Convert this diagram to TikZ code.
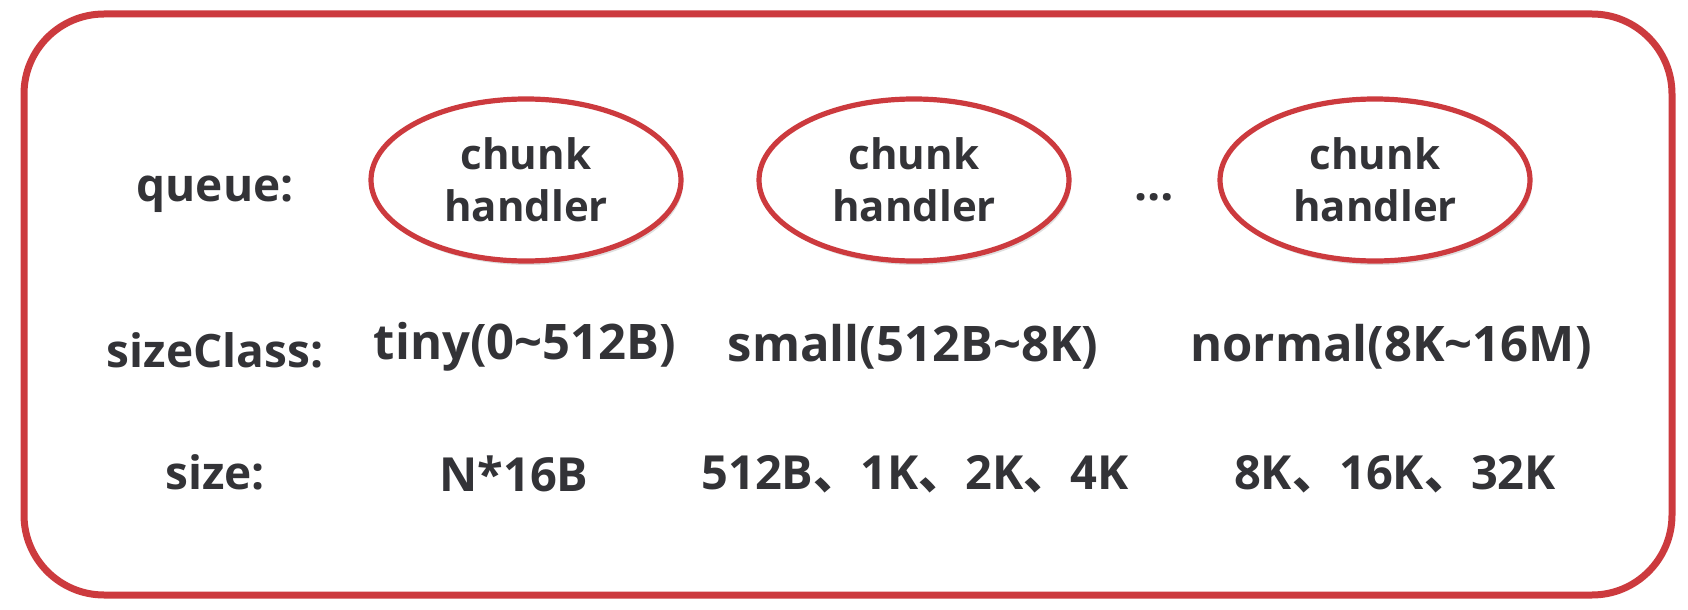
\documentclass[tikz,border=0pt]{standalone}
\usepackage{fontspec}
\setmainfont{Open Sans}
\newfontfamily\cjk{Noto Sans CJK SC}
\usetikzlibrary{shapes.geometric, shadows, positioning}

\definecolor{frameRed}{RGB}{204,58,62}
\definecolor{textGray}{RGB}{51,51,55}
\newcommand{\dun}{{\cjk 、}}

\begin{document}
\begin{tikzpicture}[x=0.5pt, y=-0.5pt,
    every node/.style={text=textGray, font=\fontsize{23}{27}\selectfont\bfseries},
    value/.style={font=\fontsize{24.5}{28}\selectfont\bfseries},
    sizeval/.style={font=\fontsize{23.5}{28}\selectfont\bfseries},
    frame/.style={draw=frameRed, line width=3.5pt, rounded corners=40pt},
    handler/.style={ellipse, draw=frameRed, line width=2.6pt, fill=white,
      minimum width=155pt, minimum height=81pt, align=center, inner sep=0pt,
      drop shadow={shadow xshift=1pt, shadow yshift=-2pt, opacity=0.25},
      font=\fontsize{21}{26}\selectfont\bfseries}]
  \useasboundingbox (0,0) rectangle (1688,610);
  % frame
  \draw[frame] (24,14) rectangle (1672,595);
  % row labels
  \node (queue) at (215,194) {queue:};
  \node (sizeclass) at (215,350) {sizeClass:};
  \node (size) at (215,472) {size:};
  % queue
  \node[handler] (h1) at (526,180) {chunk\\handler};
  \node[handler] (h2) at (914,180) {chunk\\handler};
  \node[handler] (h3) at (1375,180) {chunk\\handler};
  \node (dots) at (1154,197) {\dots};
  % sizeClass
  \node[value] (c1) at (525,347) {tiny(0\textasciitilde512B)};
  \node[value] (c2) at (913,347) {small(512B\textasciitilde8K)};
  \node[value] (c3) at (1391,347) {normal(8K\textasciitilde16M)};
  % size
  \node[sizeval] (s1) at (514,474) {N*16B};
  \node[sizeval] (s2) at (915,474) {512B\dun1K\dun2K\dun4K};
  \node[sizeval] (s3) at (1395,474) {8K\dun16K\dun32K};
\end{tikzpicture}
\end{document}
